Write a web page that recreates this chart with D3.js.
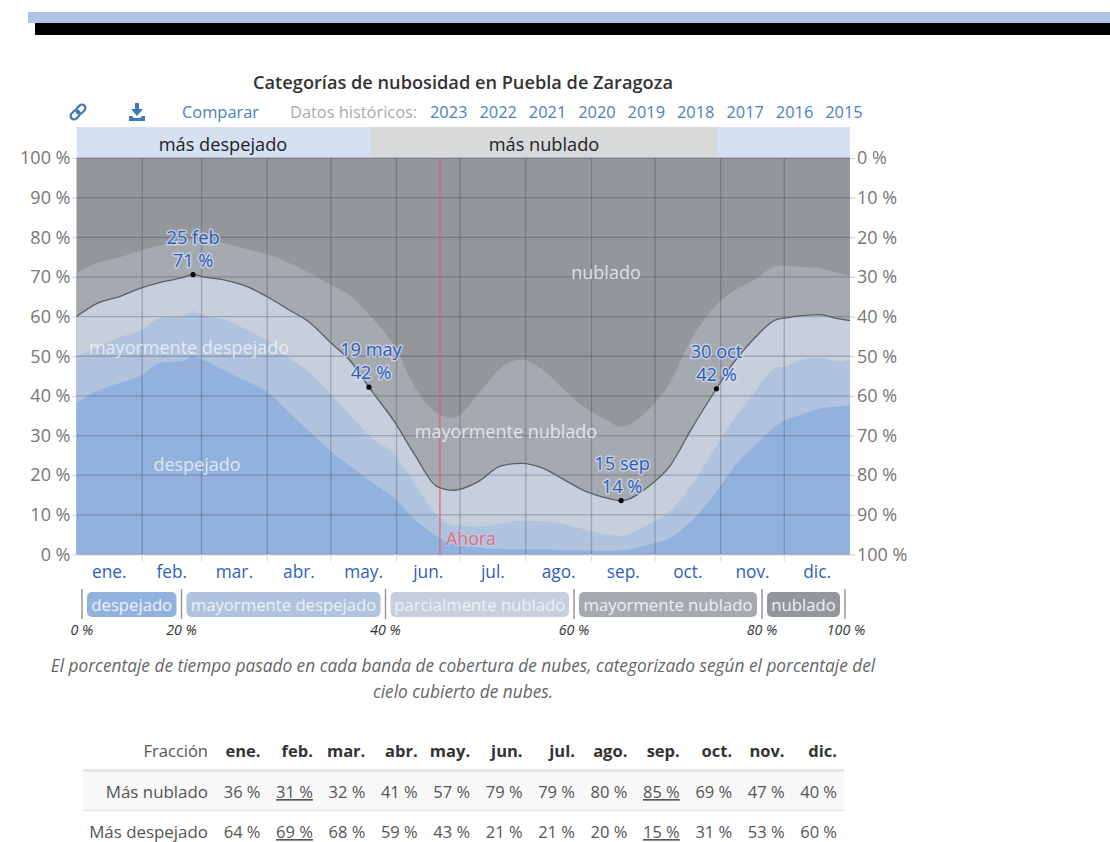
<!DOCTYPE html>
<html><head><meta charset="utf-8">
<script src="https://cdn.jsdelivr.net/npm/d3@7/dist/d3.min.js"></script>
<style>
html,body{margin:0;padding:0;background:#fff;overflow:hidden}
svg{display:block}
text{font-family:"Open Sans",sans-serif}
</style></head><body>
<svg id="c" width="1110" height="842"></svg>
<script>
const days=[0,10,20,30,40,50,55,60,70,80,90,100,110,120,130,138,150,160,170,178,190,200,210,220,230,240,250,257,270,280,290,302,310,320,330,335,340,350,360,365];
const despejado=[38.3,41.3,43.2,45,48.4,48.8,50,49,46.3,43.8,41,36,31,26,22,18.7,14.2,8.7,4.6,2.5,1.7,1.4,1.3,1.3,1.1,1,0.9,1,2.5,4.2,8.4,15.8,21.9,27.4,32.4,34,34.9,36.7,37.4,37.6];
const mayDespejado=[50,52.2,54.7,56.4,59.7,60,61.4,60.3,59.2,56.8,53.9,49.7,45.9,40.4,34.6,30,25.2,17.6,10,7.3,7.1,7.8,8.6,8.4,7.6,6.3,5,4.7,7.6,10.9,17.2,27.5,34,41,47.1,47.5,48.7,49.6,48.7,49.2];
const parcial=[60,63.4,65,67.1,68.7,69.8,70.6,70,69.2,67.7,65,61.8,58.5,53.4,48.3,42.2,33.5,24.8,17.2,16.2,18.5,22.3,23,21.8,18.9,16,14.3,13.6,17.2,22.3,31.5,41.8,48.3,54.6,59.2,59.7,60.1,60.5,59.4,59];
const mayNublado=[71,73.6,74.9,76.6,78,79,79.2,79,78.5,77,75.7,73.6,71,68,65,60.5,52.5,42,35.7,34.5,40.8,47,49.2,46.6,41.6,37,34,32.2,36.6,43.3,54.2,63,66.4,69.3,72.7,72.9,72.6,72.3,70.9,70.3];
const monthStarts=[0,31,59,90,120,151,181,212,243,273,304,334,365];
const months=["ene.","feb.","mar.","abr.","may.","jun.","jul.","ago.","sep.","oct.","nov.","dic."];
const yTicks=[0,10,20,30,40,50,60,70,80,90,100];
const extremeDays=[55,138,257,302];
const extremeDates=["25 feb","19 may","15 sep","30 oct"];
const extremeValues=["71 %","42 %","14 %","42 %"];
const nowDay=171.5;
const bandNames=["despejado","mayormente despejado","parcialmente nublado","mayormente nublado","nublado"];
const bandEdges=[0,20,40,60,80,100];
const years=[2023,2022,2021,2020,2019,2018,2017,2016,2015];
const rowCloudy=["36 %","31 %","32 %","41 %","57 %","79 %","79 %","80 %","85 %","69 %","47 %","40 %"];
const rowClear=["64 %","69 %","68 %","59 %","43 %","21 %","21 %","20 %","15 %","31 %","53 %","60 %"];

const svg=d3.select("#c");
const L=76.5,R=850,T=158,B=554.5;
const x=d3.scaleLinear().domain([0,365]).range([L,R]);
const y=d3.scaleLinear().domain([0,100]).range([B,T]);
const y2=d3.scaleLinear().domain([100,0]).range([B,T]);
const col={a:"#92b2dd",b:"#afc3de",c:"#c7cfdc",d:"#a5a9b0",e:"#93979c"};
const F='"Open Sans",sans-serif';

// page bars
svg.append("rect").attr("x",28).attr("y",12).attr("width",1082).attr("height",11).attr("fill","#b0c4e4");
svg.append("rect").attr("x",35).attr("y",23).attr("width",1075).attr("height",12).attr("fill","#000");

// title
svg.append("text").attr("x",463).attr("y",89).attr("text-anchor","middle").attr("font-size",18.2).attr("font-weight",600).attr("fill","#333").text("Categorías de nubosidad en Puebla de Zaragoza");

// toolbar
const bl="#4a82bd";
const link=svg.append("g").attr("transform","translate(78,112) rotate(-45)").attr("fill","none").attr("stroke","#3f77b8").attr("stroke-width",2.2);
link.append("rect").attr("x",-9).attr("y",-3.5).attr("width",10).attr("height",7).attr("rx",3.5);
link.append("rect").attr("x",-1).attr("y",-3.5).attr("width",10).attr("height",7).attr("rx",3.5);
svg.append("path").attr("fill","#3f77b8").attr("d","M135 103h4v6h4l-6 7-6-7h4zM129 116h3l2 2h6l2-2h3v5h-16z");
const tool=(t,xx,c)=>svg.append("text").attr("x",xx).attr("y",118).attr("font-size",16.4).attr("fill",c).text(t);
tool("Comparar",182,bl);
tool("Datos históricos:",290,"#aaa");
years.forEach((yr,i)=>tool(yr,430+i*49.4,bl));

// top band
const clearBand=[[L,R,"#d5e1f3"],[371,717,"#d8d9da"]];
clearBand.forEach(b=>svg.append("rect").attr("x",b[0]).attr("y",127).attr("width",b[1]-b[0]).attr("height",31).attr("fill",b[2]));
svg.append("text").attr("x",223).attr("y",151).attr("text-anchor","middle").attr("font-size",18.2).attr("fill","#222").text("más despejado");
svg.append("text").attr("x",544).attr("y",151).attr("text-anchor","middle").attr("font-size",18.2).attr("fill","#222").text("más nublado");

// areas
svg.append("rect").attr("x",L).attr("y",T).attr("width",R-L).attr("height",B-T).attr("fill",col.e);
const area=arr=>d3.area().x((d,i)=>x(days[i])).y0(B).y1((d,i)=>y(arr[i])).curve(d3.curveMonotoneX)(arr);
[[mayNublado,col.d],[parcial,col.c],[mayDespejado,col.b],[despejado,col.a]].forEach(s=>svg.append("path").attr("d",area(s[0])).attr("fill",s[1]));

// grid
const gridC="rgba(30,40,60,0.25)";
yTicks.forEach(v=>svg.append("line").attr("x1",L).attr("x2",R).attr("y1",y(v)).attr("y2",y(v)).attr("stroke",gridC).attr("stroke-width",1.3));
monthStarts.slice(1,-1).forEach(d=>{
  svg.append("line").attr("x1",x(d)).attr("x2",x(d)).attr("y1",T).attr("y2",B).attr("stroke",gridC).attr("stroke-width",1.3);
  svg.append("line").attr("x1",x(d)).attr("x2",x(d)).attr("y1",B).attr("y2",B+7).attr("stroke","#ddd").attr("stroke-width",1.2);
});
svg.append("line").attr("x1",L).attr("x2",R).attr("y1",B+.5).attr("y2",B+.5).attr("stroke","#ddd");

// the now line
svg.append("line").attr("x1",x(nowDay)).attr("x2",x(nowDay)).attr("y1",T).attr("y2",B).attr("stroke","#d9606c").attr("stroke-width",1.2);

// main line
svg.append("path").attr("d",d3.line().x((d,i)=>x(days[i])).y(d=>y(d)).curve(d3.curveMonotoneX)(parcial)).attr("fill","none").attr("stroke","#5a5e64").attr("stroke-width",1.3);

// y axes
const styleAxis=g=>{g.select(".domain").remove();g.selectAll("line").attr("stroke","#ccc");g.selectAll("text").attr("font-size",18).attr("font-family",F).attr("fill","#777");};
svg.append("g").attr("transform",`translate(${L},0)`).call(d3.axisLeft(y).tickValues(yTicks).tickSize(4).tickPadding(2).tickFormat(d=>d+" %")).call(styleAxis);
svg.append("g").attr("transform",`translate(${R},0)`).call(d3.axisRight(y2).tickValues(yTicks).tickSize(5).tickPadding(2).tickFormat(d=>d+" %")).call(styleAxis);

// months
months.forEach((m,i)=>svg.append("text").attr("x",x((monthStarts[i]+monthStarts[i+1])/2)).attr("y",578).attr("text-anchor","middle").attr("font-size",17.3).attr("fill","#2f5fbb").text(m));

// area labels
const areaLabels=[["nublado",606,279],["mayormente nublado",506,438],["mayormente despejado",189,354],["despejado",197,471]];
areaLabels.forEach(a=>svg.append("text").attr("x",a[1]).attr("y",a[2]).attr("text-anchor","middle").attr("font-size",18).attr("fill","#eef1f6").attr("fill-opacity",.85).text(a[0]));

// Ahora
svg.append("text").attr("x",446).attr("y",545).attr("font-size",17.8).attr("fill","#df6a80").attr("stroke","rgba(200,210,225,.6)").attr("stroke-width",2).attr("paint-order","stroke").text("Ahora");

// extremes
extremeDays.forEach((d,i)=>{
  const v=parcial[days.indexOf(d)];
  svg.append("circle").attr("cx",x(d)).attr("cy",y(v)).attr("r",2.6).attr("fill","#000");
  [[extremeDates[i],-31],[extremeValues[i],-8]].forEach(t=>{
    svg.append("text").attr("x",x(d)+(i==1?2:i==2?1:0)).attr("y",y(v)+t[1]).attr("text-anchor","middle").attr("font-size",18.2).attr("fill","#2b5cc0")
      .attr("stroke","rgba(225,230,240,.65)").attr("stroke-width",3).attr("paint-order","stroke").attr("stroke-linejoin","round").text(t[0]);
  });
});

// legend
const lg=d3.scaleLinear().domain([0,20,40,60,80,100]).range([82,181.5,385.5,574,762,845]);
const pillC=["#92b2dd","#afc3de","#c7cfdc","#a5a9b0","#93979c"];
bandNames.forEach((n,i)=>{
  const a=lg(bandEdges[i])+5,b=lg(bandEdges[i+1])-5;
  svg.append("rect").attr("x",a).attr("y",592).attr("width",b-a).attr("height",25).attr("rx",5).attr("fill",pillC[i]);
  svg.append("text").attr("x",(a+b)/2).attr("y",611).attr("text-anchor","middle").attr("font-size",16.7).attr("fill","#eef1f6").text(n);
});
bandEdges.forEach(e=>{
  svg.append("line").attr("x1",lg(e)).attr("x2",lg(e)).attr("y1",589).attr("y2",619).attr("stroke","#999").attr("stroke-width",1.5);
  svg.append("text").attr("x",lg(e)+(e==100?1:0)).attr("y",635).attr("text-anchor","middle").attr("font-size",14.2).attr("font-style","italic").attr("fill","#333").text(e+" %");
});

// caption
["El porcentaje de tiempo pasado en cada banda de cobertura de nubes, categorizado según el porcentaje del","cielo cubierto de nubes."].forEach((t,i)=>
  svg.append("text").attr("x",463).attr("y",672+i*26).attr("text-anchor","middle").attr("font-size",17.3).attr("font-style","italic").attr("fill","#666").text(t));

// table
svg.append("rect").attr("x",83).attr("y",770).attr("width",761).attr("height",40).attr("fill","#f8f8f8");
svg.append("line").attr("x1",83).attr("x2",844).attr("y1",770.5).attr("y2",770.5).attr("stroke","#ddd").attr("stroke-width",2);
svg.append("line").attr("x1",83).attr("x2",844).attr("y1",810.5).attr("y2",810.5).attr("stroke","#e8e8e8").attr("stroke-width",1.5);
const colX=d3.scaleLinear().domain([0,11]).range([260.5,837]);
const tc=(t,xx,yy,o={})=>svg.append("text").attr("x",xx).attr("y",yy).attr("text-anchor","end").attr("font-size",o.s||16.5).attr("fill",o.c||"#555").attr("font-weight",o.w||400).attr("text-decoration",o.u?"underline":null).text(t);
tc("Fracción",208,757);
tc("Más nublado",208,798,{s:16.9});
tc("Más despejado",208,838,{s:16.9});
months.forEach((m,i)=>{
  tc(m,colX(i),757,{w:700,c:"#333"});
  tc(rowCloudy[i],colX(i),798,{u:i==1||i==8});
  tc(rowClear[i],colX(i),838,{u:i==1||i==8});
});
</script>
</body></html>
